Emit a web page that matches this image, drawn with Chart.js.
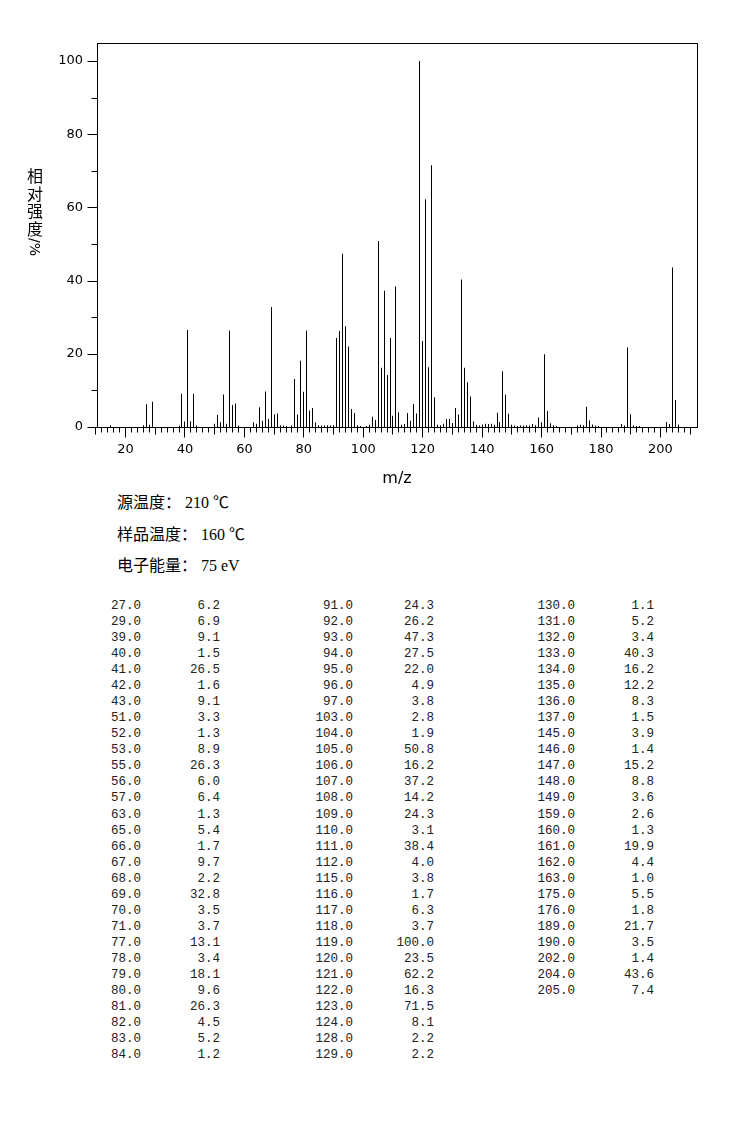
<!DOCTYPE html>
<html lang="zh">
<head>
    <meta charset="UTF-8">
    <title>质谱图</title>
    <style>
        body {
            margin: 0;
            background: #fff;
            width: 737px;
            height: 1134px;
            position: relative;
            overflow: hidden;
        }
        #specChart {
            position: absolute;
            left: 0;
            top: 0;
        }
        .ych {
            position: absolute;
            left: 26px;
            width: 18px;
            text-align: center;
            font-family: 'Noto Sans CJK SC', sans-serif;
            font-size: 16px;
            line-height: 18px;
            color: #000;
        }
        .yunit {
            position: absolute;
            left: 23px;
            top: 239px;
            width: 24px;
            text-align: center;
            font-family: 'DejaVu Sans', sans-serif;
            font-size: 14px;
            line-height: 16px;
            color: #000;
            transform: rotate(90deg);
        }
        .cond {
            position: absolute;
            left: 117px;
            font-family: 'Liberation Serif', 'Noto Sans CJK SC', serif;
            font-size: 16px;
            line-height: 20px;
            color: #000;
            white-space: pre;
        }
        .cell {
            position: absolute;
            width: 70px;
            text-align: right;
            font-family: 'Liberation Mono', 'DejaVu Sans Mono', monospace;
            font-size: 12.5px;
            line-height: 16px;
            color: #222;
        }
    </style>
    <script src="https://cdn.jsdelivr.net/npm/chart.js"></script>
</head>
<body>
    <canvas id="specChart" width="737" height="490"></canvas>
    <div class="ych" style="top:166px">相</div>
    <div class="ych" style="top:184px">对</div>
    <div class="ych" style="top:201px">强</div>
    <div class="ych" style="top:219px">度</div>
    <div class="yunit">/%</div>
    <div class="cond" style="top:493px">源温度：<span style="margin-left:4px">210 ℃</span></div>
    <div class="cond" style="top:525px">样品温度：<span style="margin-left:4px">160 ℃</span></div>
    <div class="cond" style="top:556px">电子能量：<span style="margin-left:4px">75 eV</span></div>
    <div id="peakTable"></div>
    <script>
        // listed peaks (m/z, relative intensity %)
        const masses = [
            27, 29, 39, 40, 41, 42, 43, 51, 52, 53, 55, 56, 57, 63, 65, 66, 67, 68, 69, 70, 71, 77, 78, 79, 80, 81, 82, 83, 84,
            91, 92, 93, 94, 95, 96, 97, 103, 104, 105, 106, 107, 108, 109, 110, 111, 112, 115, 116, 117, 118, 119, 120, 121, 122, 123, 124, 128, 129,
            130, 131, 132, 133, 134, 135, 136, 137, 145, 146, 147, 148, 149, 159, 160, 161, 162, 163, 175, 176, 189, 190, 202, 204, 205
        ];
        const intensities = [
            6.2, 6.9, 9.1, 1.5, 26.5, 1.6, 9.1, 3.3, 1.3, 8.9, 26.3, 6.0, 6.4, 1.3, 5.4, 1.7, 9.7, 2.2, 32.8, 3.5, 3.7, 13.1, 3.4, 18.1, 9.6, 26.3, 4.5, 5.2, 1.2,
            24.3, 26.2, 47.3, 27.5, 22.0, 4.9, 3.8, 2.8, 1.9, 50.8, 16.2, 37.2, 14.2, 24.3, 3.1, 38.4, 4.0, 3.8, 1.7, 6.3, 3.7, 100.0, 23.5, 62.2, 16.3, 71.5, 8.1, 2.2, 2.2,
            1.1, 5.2, 3.4, 40.3, 16.2, 12.2, 8.3, 1.5, 3.9, 1.4, 15.2, 8.8, 3.6, 2.6, 1.3, 19.9, 4.4, 1.0, 5.5, 1.8, 21.7, 3.5, 1.4, 43.6, 7.4
        ];

        // small peaks seen in the plot but not in the list (estimated)
        const minorMasses = [
            15, 26, 28, 38, 44, 50, 54, 58, 64, 72, 73, 74, 76, 85, 86, 87, 88, 89, 90, 98, 99, 101, 102, 113, 114, 125, 126, 127,
            138, 139, 140, 141, 142, 143, 144, 150, 151, 152, 153, 154, 155, 156, 157, 158, 164, 165, 172, 173, 174, 177, 178, 179,
            187, 188, 191, 192, 193, 203, 206
        ];
        const minorIntensities = [
            0.4, 0.5, 0.6, 0.4, 0.4, 0.9, 0.9, 0.4, 0.9, 0.5, 0.4, 0.3, 0.4, 0.5, 0.4, 0.4, 0.5, 0.4, 0.5, 0.5, 0.3, 0.3, 0.6, 0.6, 0.8, 0.6, 0.5, 0.9,
            0.6, 0.4, 0.7, 0.9, 0.8, 0.9, 0.6, 0.6, 0.4, 0.3, 0.4, 0.4, 0.5, 0.4, 0.8, 0.5, 0.5, 0.3, 0.4, 0.6, 0.5, 0.7, 0.4, 0.3,
            0.8, 0.4, 0.4, 0.3, 0.3, 0.8, 0.7
        ];

        const xTickLabels = [20, 40, 60, 80, 100, 120, 140, 160, 180, 200];
        const yTickLabels = [0, 20, 40, 60, 80, 100];

        // axis ranges and tick spacing
        const xMin = 10.4, xMax = 212.3;
        const yMin = 0, yMax = 104.9;
        const xMinorStep = 2, xFirstMinor = 10, xLastMinor = 210;
        const yMinorStep = 10;

        // snap each 1px bar onto a whole pixel column so it stays crisp
        const snapPlugin = {
            id: 'snap',
            beforeDatasetsDraw(chart) {
                chart.data.datasets.forEach((ds, i) => {
                    chart.getDatasetMeta(i).data.forEach(el => {
                        el.x = Math.floor(el.x) + 0.5;
                    });
                });
            }
        };

        // frame and the three lengths of tick marks
        const framePlugin = {
            id: 'frame',
            afterDraw(chart) {
                const {ctx, chartArea: a, scales: {x, y}} = chart;
                ctx.save();
                ctx.strokeStyle = '#000';
                ctx.lineWidth = 1;
                const l = Math.round(a.left) + 0.5, r = Math.round(a.right) + 0.5;
                const t = Math.round(a.top) + 0.5, b = Math.round(a.bottom) + 0.5;
                ctx.strokeRect(l, t, r - l, b - t);
                ctx.beginPath();
                for (let v = xFirstMinor; v <= xLastMinor; v += xMinorStep) {
                    const px = Math.floor(x.getPixelForValue(v)) + 0.5;
                    const len = v % 20 === 0 ? 10 : (v % 10 === 0 ? 7 : 5);
                    ctx.moveTo(px, b);
                    ctx.lineTo(px, b + len);
                }
                for (let v = yMin; v <= 100; v += yMinorStep) {
                    const py = Math.round(y.getPixelForValue(v)) + 0.5;
                    const len = v % 20 === 0 ? 10 : 6;
                    ctx.moveTo(l, py);
                    ctx.lineTo(l - len, py);
                }
                ctx.stroke();
                ctx.restore();
            }
        };

        const peakData = masses.map((m, i) => ({x: m, y: intensities[i]}));
        const minorData = minorMasses.map((m, i) => ({x: m, y: minorIntensities[i]}));

        const ctx = document.getElementById('specChart').getContext('2d');
        new Chart(ctx, {
            type: 'bar',
            data: {
                datasets: [
                    {data: peakData, backgroundColor: '#000', barThickness: 1, inflateAmount: 0, grouped: false},
                    {data: minorData, backgroundColor: '#000', barThickness: 1, inflateAmount: 0, grouped: false}
                ]
            },
            options: {
                responsive: false,
                animation: false,
                devicePixelRatio: 1,
                layout: {padding: {left: 0, top: 43, right: 40, bottom: 0}},
                plugins: {legend: {display: false}, tooltip: {enabled: false}},
                scales: {
                    x: {
                        type: 'linear',
                        min: xMin,
                        max: xMax,
                        offset: false,
                        grid: {display: false, drawTicks: false},
                        border: {display: false},
                        afterBuildTicks: s => { s.ticks = xTickLabels.map(v => ({value: v})); },
                        afterFit: s => { s.height = 63; },
                        ticks: {
                            padding: 15,
                            maxRotation: 0,
                            autoSkip: false,
                            color: '#000',
                            font: {family: 'DejaVu Sans', size: 13}
                        },
                        title: {
                            display: true,
                            text: 'm/z',
                            color: '#000',
                            font: {family: 'DejaVu Sans', size: 16},
                            padding: {top: 0, bottom: 2}
                        }
                    },
                    y: {
                        min: yMin,
                        max: yMax,
                        grid: {display: false, drawTicks: false},
                        border: {display: false},
                        afterBuildTicks: s => { s.ticks = yTickLabels.map(v => ({value: v})); },
                        afterFit: s => { s.width = 97; },
                        ticks: {
                            padding: 14,
                            color: '#000',
                            font: {family: 'DejaVu Sans', size: 13}
                        }
                    }
                }
            },
            plugins: [snapPlugin, framePlugin]
        });

        // peak list below the chart, three column groups
        const groupSizes = [29, 29, 25];
        const colRight = [[141, 220], [353, 434], [575, 654]];
        const table = document.getElementById('peakTable');
        let k = 0;
        groupSizes.forEach((n, g) => {
            for (let j = 0; j < n; j++, k++) {
                const top = 598 + j * 16.04;
                [masses[k].toFixed(1), intensities[k].toFixed(1)].forEach((txt, c) => {
                    const d = document.createElement('div');
                    d.className = 'cell';
                    d.style.left = (colRight[g][c] - 70) + 'px';
                    d.style.top = top + 'px';
                    d.textContent = txt;
                    table.appendChild(d);
                });
            }
        });
    </script>
</body>
</html>
